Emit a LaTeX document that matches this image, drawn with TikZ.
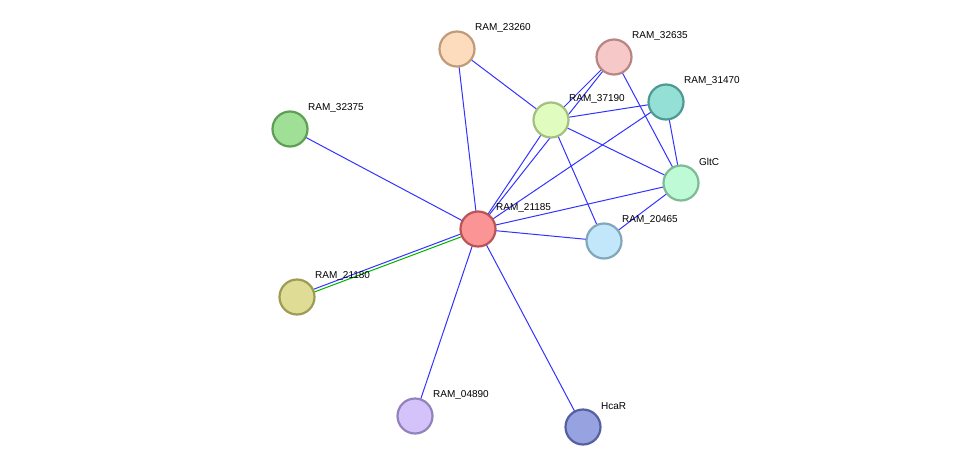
\documentclass[tikz,border=0pt]{standalone}
\usepackage{fontspec}
\setmainfont{Liberation Sans}
\begin{document}
\begin{tikzpicture}[x=1pt,y=-1pt,
  prot/.style={circle,minimum size=35pt,inner sep=0pt,line width=2.2pt},
  lbl/.style={anchor=west,font=\fontsize{10}{12}\selectfont,inner sep=0pt},
  ed/.style={blue!80!white,line width=1pt},
  edg/.style={green!70!black,line width=1pt}]
\useasboundingbox (0,0) rectangle (975,472);
\def\P#1#2#3#4#5#6{\node[prot,fill=#4,draw=#5] (#1) at (#2,#3) {};
  \node[lbl] (#1l) at (#2+18,#3-21) {#6};}
\definecolor{f1}{HTML}{FDDCBD}\definecolor{d1}{HTML}{C09B7A}
\definecolor{f2}{HTML}{F7C8C8}\definecolor{d2}{HTML}{B88484}
\definecolor{f3}{HTML}{94E0D6}\definecolor{d3}{HTML}{4F9A90}
\definecolor{f4}{HTML}{E1FCBF}\definecolor{d4}{HTML}{A4C080}
\definecolor{f5}{HTML}{A0E096}\definecolor{d5}{HTML}{5E9F55}
\definecolor{f6}{HTML}{BEFAD6}\definecolor{d6}{HTML}{7CBB95}
\definecolor{f7}{HTML}{FB9494}\definecolor{d7}{HTML}{BB5454}
\definecolor{f8}{HTML}{C2E6FA}\definecolor{d8}{HTML}{82A6BA}
\definecolor{f9}{HTML}{DFDC96}\definecolor{d9}{HTML}{9E9B55}
\definecolor{f10}{HTML}{D4C2FB}\definecolor{d10}{HTML}{9482BC}
\definecolor{f11}{HTML}{97A2E0}\definecolor{d11}{HTML}{5560A0}
% edges first (drawn under nodes via coordinates)
\coordinate (c23260) at (457,49);
\coordinate (c32635) at (614,57);
\coordinate (c31470) at (666,102);
\coordinate (c37190) at (551,120);
\coordinate (c32375) at (290,129);
\coordinate (cGltC) at (681,183);
\coordinate (c21185) at (478,229);
\coordinate (c20465) at (604,241);
\coordinate (c21180) at (297,297);
\coordinate (c04890) at (415,416);
\coordinate (cHcaR) at (583,427);
\draw[ed] (c21185) -- (c32375);
\draw[ed] (c21185) -- (c23260);
\draw[ed] (c21185) -- (c37190);
\draw[ed] (c21185) -- (c32635);
\draw[ed] (c21185) -- (c31470);
\draw[ed] (c21185) -- (cGltC);
\draw[ed] (c21185) -- (c20465);
\draw[edg] ([yshift=-1.5pt]c21185) -- ([yshift=-1.5pt]c21180);
\draw[ed] ([yshift=1.5pt]c21185) -- ([yshift=1.5pt]c21180);
\draw[ed] (c21185) -- (c04890);
\draw[ed] (c21185) -- (cHcaR);
\draw[ed] (c23260) -- (c37190);
\draw[ed] (c37190) -- (c32635);
\draw[ed] (c37190) -- (c31470);
\draw[ed] (c37190) -- (cGltC);
\draw[ed] (c37190) -- (c20465);
\draw[ed] (c32635) -- (cGltC);
\draw[ed] (c31470) -- (cGltC);
\draw[ed] (cGltC) -- (c20465);
\P{n23260}{457}{49}{f1}{d1}{RAM\_23260}
\P{n32635}{614}{57}{f2}{d2}{RAM\_32635}
\P{n31470}{666}{102}{f3}{d3}{RAM\_31470}
\P{n37190}{551}{120}{f4}{d4}{RAM\_37190}
\P{n32375}{290}{129}{f5}{d5}{RAM\_32375}
\P{nGltC}{681}{183}{f6}{d6}{GltC}
\P{n21185}{478}{229}{f7}{d7}{RAM\_21185}
\P{n20465}{604}{241}{f8}{d8}{RAM\_20465}
\P{n21180}{297}{297}{f9}{d9}{RAM\_21180}
\P{n04890}{415}{416}{f10}{d10}{RAM\_04890}
\P{nHcaR}{583}{427}{f11}{d11}{HcaR}
\end{tikzpicture}
\end{document}
